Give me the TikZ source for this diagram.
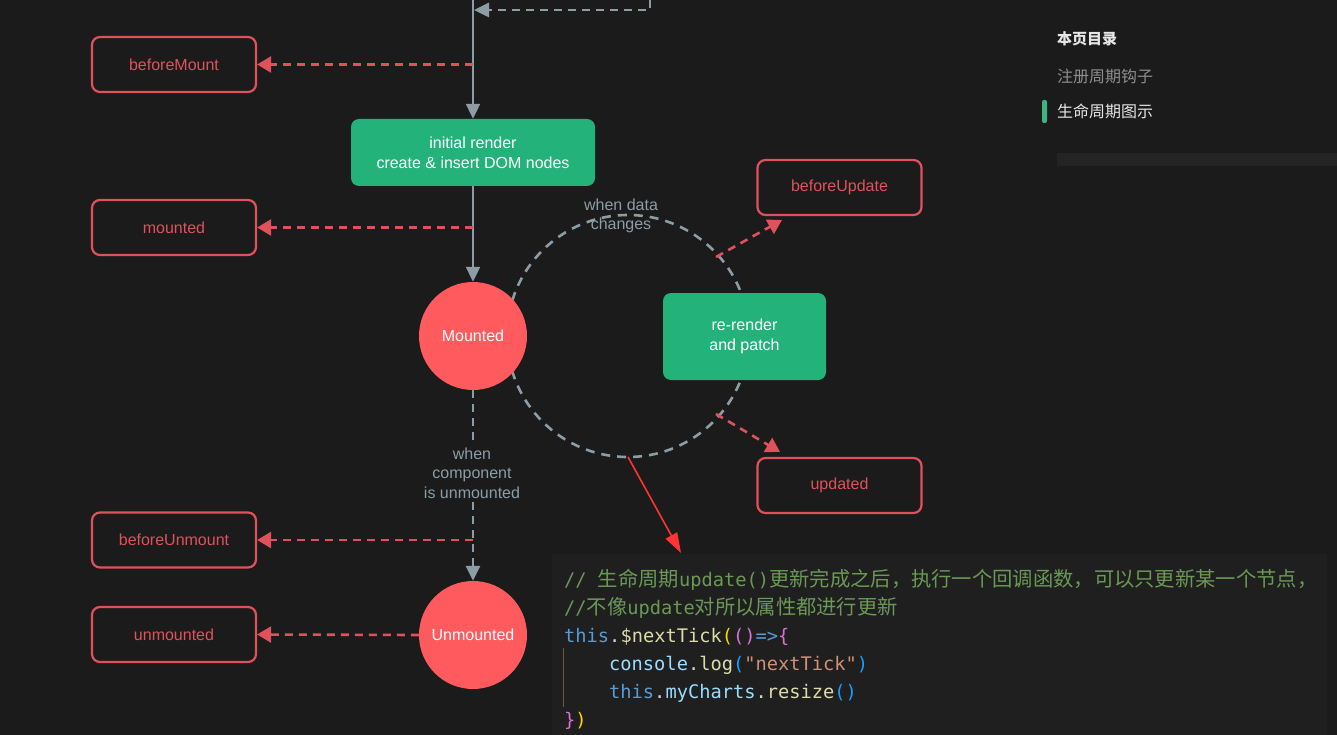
\documentclass[tikz,border=0pt]{standalone}
\usepackage{fontspec}
\setmainfont{Liberation Sans}
\newfontfamily\cjk{Noto Sans CJK SC}
\newfontfamily\codemono{DejaVu Sans Mono}
\usetikzlibrary{arrows.meta}
\definecolor{bg}{HTML}{1B1B1B}
\definecolor{codebg}{HTML}{1F1F1F}
\definecolor{barbg}{HTML}{242424}
\definecolor{hookred}{HTML}{E0525B}
\definecolor{vgreen}{HTML}{24B27B}
\definecolor{cred}{HTML}{FF5A5E}
\definecolor{lgray}{HTML}{8C9DA6}
\definecolor{annot}{HTML}{FF3333}
\definecolor{cgreen}{HTML}{6A9955}
\definecolor{cblue}{HTML}{569CD6}
\definecolor{clight}{HTML}{9CDCFE}
\definecolor{cyellow}{HTML}{DCDCAA}
\definecolor{cgold}{HTML}{FFD700}
\definecolor{cpink}{HTML}{DA70D6}
\definecolor{cbrk}{HTML}{179FFF}
\definecolor{cstr}{HTML}{CE9178}
\definecolor{cwhite}{HTML}{D4D4D4}
\definecolor{guide}{HTML}{6B5A44}
\definecolor{tocw}{HTML}{E6E6E6}
\definecolor{tocg}{HTML}{8E8E8E}
\definecolor{tocbar}{HTML}{3FB27F}
\newcommand{\cm}{\codemono\fontsize{18.7}{28}\selectfont}
\newcommand{\cc}{\cjk\fontsize{20.3}{28}\selectfont}
\tikzset{
  hook/.style={draw=hookred, line width=2.2pt, rounded corners=8pt, minimum width=164pt, minimum height=55pt, inner sep=0pt, text=hookred, font=\fontsize{16}{20}\selectfont},
  phase/.style={fill=vgreen, rounded corners=8pt, text=white, align=center, inner sep=0pt, font=\fontsize{16}{20}\selectfont},
  state/.style={circle, fill=cred, minimum size=108pt, inner sep=0pt, text=white, font=\fontsize{16}{20}\selectfont},
  lbl/.style={text=lgray, align=center, inner sep=1pt, font=\fontsize{16}{19.5}\selectfont},
  flow/.style={draw=lgray, line width=2.2pt, -{Triangle[length=15pt,width=14pt]}},
  flowdash/.style={flow, line width=2.6pt, dash pattern=on 8pt off 6pt},
  hookarrow/.style={draw=hookred, line width=2.6pt, dash pattern=on 8pt off 6pt, -{Triangle[length=14pt,width=16pt]}},
  codeline/.style={anchor=base west, inner sep=0pt},
}
\begin{document}
\begin{tikzpicture}[x=1pt, y=-1pt]
\useasboundingbox (0,0) rectangle (1337,735);
\fill[bg] (0,0) rectangle (1337,735);
% sidebar
\fill[barbg] (1057,153) rectangle (1337,166);
\fill[tocbar, rounded corners=2pt] (1042,100) rectangle (1047,123);
\node[anchor=base west, inner sep=0pt, text=tocw, font=\cjk\bfseries\fontsize{15}{18}\selectfont] (toc) at (1057,45) {本页目录};
\node[anchor=base west, inner sep=0pt, text=tocg, font=\cjk\fontsize{16}{18}\selectfont] (toc1) at (1057,83) {注册周期钩子};
\node[anchor=base west, inner sep=0pt, text=tocw, font=\cjk\fontsize{16}{18}\selectfont] (toc2) at (1057,118) {生命周期图示};
% code block
\fill[codebg] (552,554) rectangle (1327,735);
\draw[guide, line width=1pt] (563.5,648) -- (563.5,707);
\node[codeline] (c1) at (564,586) {{\cm\color{cgreen}// }{\cc\color{cgreen}生命周期}{\cm\color{cgreen}update()}{\cc\color{cgreen}更新完成之后，执行一个回调函数，可以只更新某一个节点，}};
\node[codeline] (c2) at (564,614) {{\cm\color{cgreen}//}{\cc\color{cgreen}不像}{\cm\color{cgreen}update}{\cc\color{cgreen}对所以属性都进行更新}};
\node[codeline] (c3) at (564,642) {\cm{\color{cblue}this}{\color{cwhite}.}{\color{cyellow}\$nextTick}{\color{cgold}(}{\color{cpink}()}{\color{cblue}=>}{\color{cpink}\{}};
\node[codeline] (c4) at (609,670) {\cm{\color{clight}console}{\color{cwhite}.}{\color{cyellow}log}{\color{cbrk}(}{\color{cstr}"nextTick"}{\color{cbrk})}};
\node[codeline] (c5) at (609,698) {\cm{\color{cblue}this}{\color{cwhite}.}{\color{clight}myCharts}{\color{cwhite}.}{\color{cyellow}resize}{\color{cbrk}()}};
\node[codeline] (c6) at (564,726) {\cm{\color{cpink}\}}{\color{cgold})}};
% update cycle circle
\draw[lgray, line width=2.6pt, dash pattern=on 9pt off 7pt] (628,336) circle[radius=121];
\node[lbl] (wdc) at (621,216) {when data\\changes};
% nodes
\node[hook] (beforeMount) at (174,64.5) {beforeMount};
\node[hook] (mounted) at (174,227.5) {mounted};
\node[hook] (beforeUnmount) at (174,540) {beforeUnmount};
\node[hook] (unmounted) at (174,634.5) {unmounted};
\node[hook] (beforeUpdate) at (839.5,187.5) {beforeUpdate};
\node[hook] (updated) at (839.5,485.5) {updated};
\node[phase, minimum width=244pt, minimum height=67pt] (init) at (473,152.5) {initial render\\create \& insert DOM nodes};
\node[phase, minimum width=163pt, minimum height=87pt] (rerender) at (744.5,336.5) {re-render\\and patch};
\node[state] (Mounted) at (473,336) {Mounted};
\node[state] (Unmounted) at (473,635) {Unmounted};
% coordinates
\coordinate (top) at (473,0);
\coordinate (tr) at (650,0);
\coordinate (tr2) at (650,10);
\coordinate (tl) at (474,10);
\coordinate (bm) at (473,64.5);
\coordinate (md) at (473,227.5);
\coordinate (bu) at (473,540);
\coordinate (up1) at (716,257);
\coordinate (up1t) at (782,220);
\coordinate (up2) at (716,414);
\coordinate (up2t) at (780,452);
\coordinate (ann) at (628,457);
\coordinate (annt) at (681,553);
% connectors
\draw[flow] (top) -- (init.north);
\draw[flowdash] (tr) -- (tr2) -- (tl);
\draw[flow] (init.south) -- (Mounted.north);
\draw[flowdash] (Mounted.south) -- (Unmounted.north);
\node[lbl, fill=bg, inner sep=2pt] (wcu) at (472,473) {when\\component\\is unmounted};
\draw[hookarrow] (bm) -- (beforeMount.east);
\draw[hookarrow] (md) -- (mounted.east);
\draw[hookarrow] (bu) -- (beforeUnmount.east);
\draw[hookarrow] (Unmounted.west) -- (unmounted.east);
\draw[hookarrow] (up1) -- (up1t);
\draw[hookarrow] (up2) -- (up2t);
\draw[annot, line width=1.6pt, -{Triangle[length=20pt,width=13pt]}] (ann) -- (annt);
\end{tikzpicture}
\end{document}
